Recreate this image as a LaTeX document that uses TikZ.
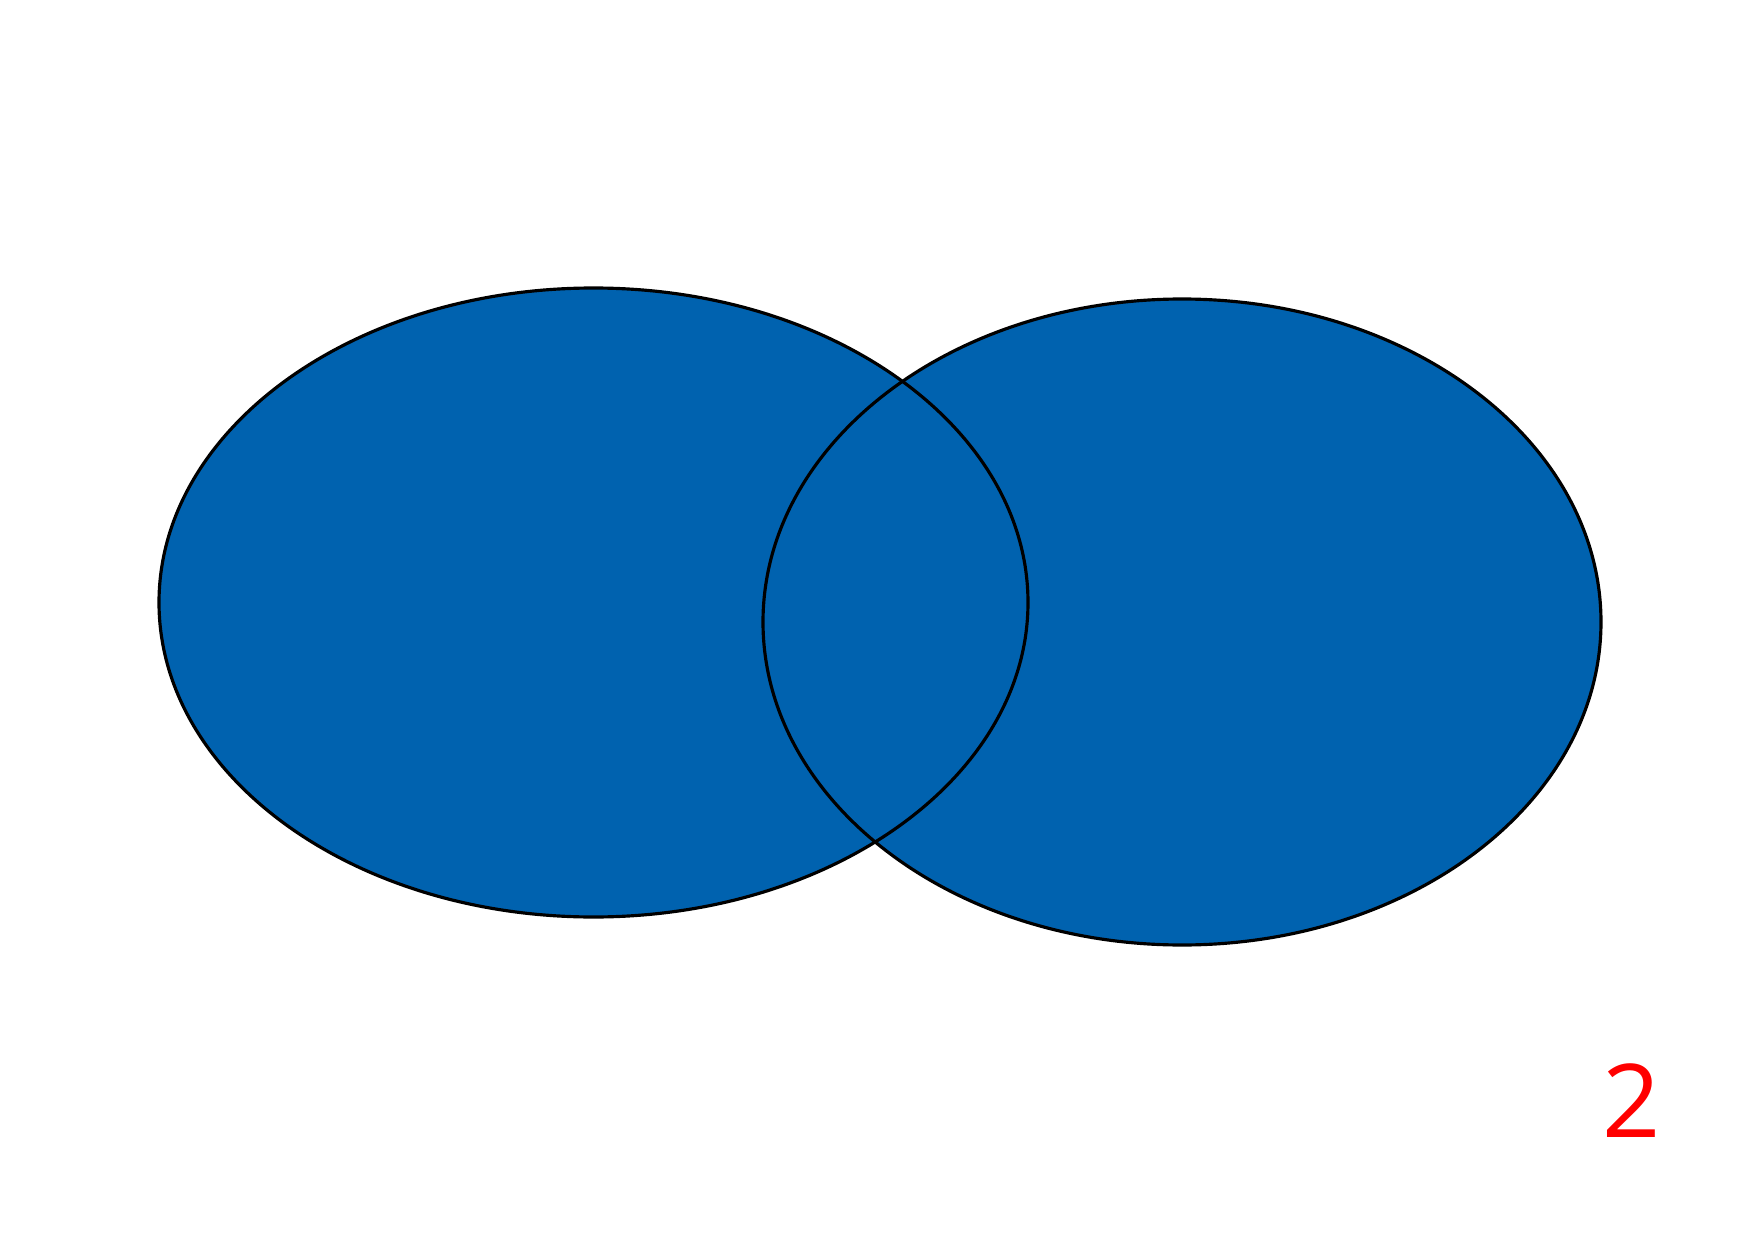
\documentclass[tikz,border=0pt]{standalone}
\usepackage{fontspec}
\setmainfont{Open Sans}
\usepackage{xcolor}
\usepackage{tikz}
\definecolor{setblue}{HTML}{0062AF}
\definecolor{labelred}{HTML}{FF0000}

\begin{document}
\begin{tikzpicture}[x=1cm,y=1cm,
  setfill/.style={fill=setblue},
  setline/.style={draw=black, line width=0.9pt}]
\useasboundingbox (0, 0) rectangle (17.54, 12.40);
% Two overlapping sets
\fill[setfill] (5.935, 6.375) ellipse [x radius=4.345, y radius=3.145];
\fill[setfill] (11.82, 6.18) ellipse [x radius=4.19, y radius=3.23];
\draw[setline] (5.935, 6.375) ellipse [x radius=4.345, y radius=3.145];
\draw[setline] (11.82, 6.18) ellipse [x radius=4.19, y radius=3.23];

% Label
\node[anchor=base, inner sep=0, text=labelred, font=\fontsize{29}{29}\selectfont] (count) at (16.32, 1.03) {2};
\end{tikzpicture}
\end{document}
